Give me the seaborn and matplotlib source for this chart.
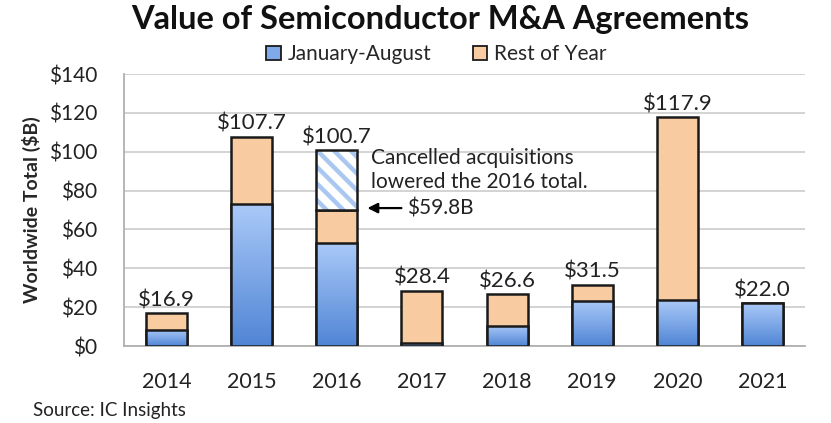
import numpy as np
import matplotlib
matplotlib.use('Agg')
import matplotlib.pyplot as plt
import seaborn as sns
from matplotlib.colors import LinearSegmentedColormap
from matplotlib.patches import Patch

# data
years = ['2014', '2015', '2016', '2017', '2018', '2019', '2020', '2021']
jan_aug = [8.4, 73.0, 53.0, 1.5, 10.3, 23.3, 23.6, 22.0]
rest_of_year = [8.5, 34.7, 17.0, 26.9, 16.3, 8.2, 94.3, 0.0]
totals = [16.9, 107.7, 100.7, 28.4, 26.6, 31.5, 117.9, 22.0]
cancelled_year = '2016'
cancelled_note = 'Cancelled acquisitions\nlowered the 2016 total.'
cancelled_label = '$59.8B'

sns.set_theme(style='white')
plt.rcParams['font.family'] = ['Lato', 'DejaVu Sans']
plt.rcParams['hatch.linewidth'] = 3.2

blue = '#7fa9e8'
orange = '#f8cba0'
gray = '#b0b0b0'
edge = '#1a1a1a'

fig = plt.figure(figsize=(8.31, 4.23), dpi=100)
ax = fig.add_axes([0.149, 0.182, 0.820, 0.643])

stacked = [j + r for j, r in zip(jan_aug, rest_of_year)]
sns.barplot(x=years, y=stacked, color=orange, saturation=1, width=0.48,
            edgecolor=edge, linewidth=1.8, ax=ax, zorder=2)
n_orange = len(ax.patches)
sns.barplot(x=years, y=jan_aug, color=blue, saturation=1, width=0.48,
            edgecolor=edge, linewidth=1.8, ax=ax, zorder=3)

# hatched part for cancelled deals
ci = years.index(cancelled_year)
ax.bar(ci, totals[ci] - stacked[ci], bottom=stacked[ci], width=0.48,
       color='white', edgecolor='#a9c7f0', hatch='\\\\', linewidth=0, zorder=2)
ax.bar(ci, totals[ci] - stacked[ci], bottom=stacked[ci], width=0.48,
       fill=False, edgecolor=edge, linewidth=1.8, zorder=4)

# gradient on the blue bars
cmap = LinearSegmentedColormap.from_list('bl', ['#5085d5', '#aac9f8'])
grad = np.linspace(0, 1, 256).reshape(-1, 1)
for p in ax.patches[n_orange:n_orange + len(years)]:
    x0, y0 = p.get_x(), p.get_y()
    w, h = p.get_width(), p.get_height()
    if h <= 0:
        continue
    im = ax.imshow(grad, cmap=cmap, origin='lower', aspect='auto',
                   extent=[x0, x0 + w, y0, y0 + h], zorder=3)
    im.set_clip_path(p)
    p.set_facecolor('none')
    p.set_zorder(4)

for i, t in enumerate(totals):
    ax.text(i, t + 1.5, f'${t:.1f}', ha='center', va='bottom',
            fontsize=16, color='#222222')

ax.set_xlim(-0.5, len(years) - 0.5)
ax.set_ylim(0, 140)
ax.set_yticks(range(0, 141, 20))
ax.set_yticklabels([f'${v}' for v in range(0, 141, 20)], fontsize=15)
ax.set_xticks(range(len(years)))
ax.set_xticklabels(years, fontsize=15.5)
ax.set_xticks(np.arange(-0.5, len(years)), minor=True)
ax.tick_params(axis='x', which='major', length=0, pad=19, colors='#222222')
ax.tick_params(axis='x', which='minor', length=6, width=1.3, color=gray,
               direction='out')
ax.tick_params(axis='y', length=7, width=1.3, direction='out',
               pad=12, colors='#222222')
ax.tick_params(axis='y', color=gray)
ax.grid(axis='y', color='#d0d0d0', linewidth=1.3, zorder=0)
ax.set_axisbelow(True)
for s in ['top', 'right']:
    ax.spines[s].set_visible(False)
for s in ['left', 'bottom']:
    ax.spines[s].set_color(gray)
    ax.spines[s].set_linewidth(1.3)
ax.set_ylabel('Worldwide Total ($B)', fontsize=14, fontweight='bold',
              labelpad=6)

ax.text(ci + 0.4, 90.5, cancelled_note, fontsize=15, color='#222222',
        va='center', ha='left', linespacing=1.25)
ax.annotate(cancelled_label, xy=(ci + 0.36, 71), xytext=(ci + 0.83, 71),
            fontsize=15, color='#222222', va='center', ha='left',
            arrowprops=dict(arrowstyle='-|>', color='black', lw=1.6,
                            mutation_scale=15, shrinkA=2, shrinkB=0))

fig.text(0.53, 0.955, 'Value of Semiconductor M&A Agreements', ha='center',
         va='center', fontsize=23.5, fontweight='bold', color='#111111')

handles = [Patch(facecolor=blue, edgecolor=edge, linewidth=1.3),
           Patch(facecolor=orange, edgecolor=edge, linewidth=1.3)]
fig.legend(handles, ['January-August', 'Rest of Year'], loc='center',
           bbox_to_anchor=(0.525, 0.872), ncol=2, frameon=False, fontsize=15,
           handlelength=0.7, handleheight=0.7, handletextpad=0.3,
           columnspacing=2.0)

fig.text(0.04, 0.03, 'Source: IC Insights', fontsize=13.5, color='#222222',
         va='center')

fig.savefig('out.png', dpi=100)
